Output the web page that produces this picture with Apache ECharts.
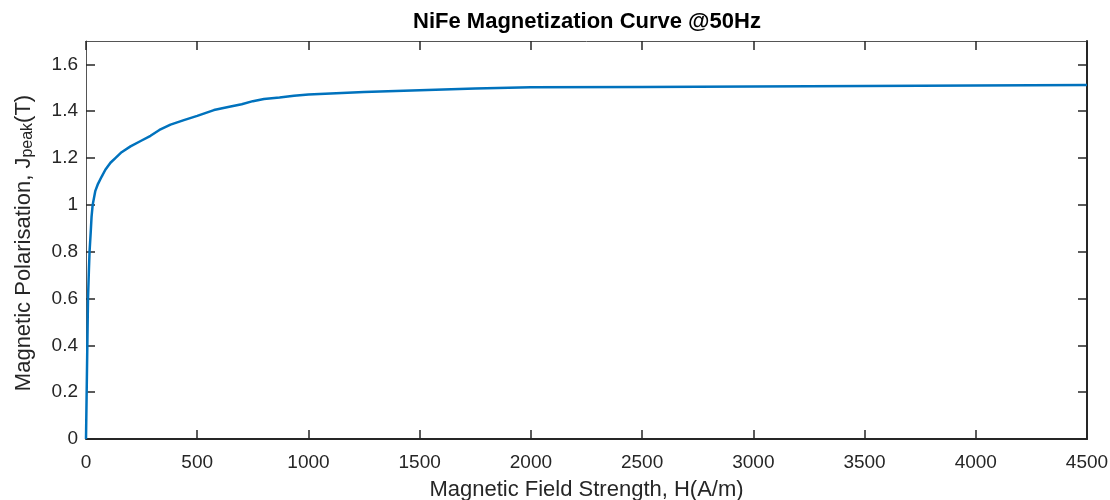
<!DOCTYPE html>
<html>
<head>
<meta charset="utf-8">
<script src="https://cdn.jsdelivr.net/npm/echarts@6/dist/echarts.min.js"></script>
<style>
html,body{margin:0;padding:0;background:#fff;}
#main{width:1110px;height:500px;}
</style>
</head>
<body>
<div id="main"></div>
<script>
// Data
var fieldH = [0, 3, 6, 9, 13, 16, 21, 25, 30, 42, 54, 70, 87, 110, 132, 160, 200, 250, 290, 330, 380, 440, 500, 575, 650, 700, 750, 800, 870, 935, 1000, 1100, 1250, 1500, 1750, 2000, 2500, 3000, 3500, 4000, 4500];
var polarJ = [0, 0.2, 0.4, 0.6, 0.72, 0.8, 0.88, 0.95, 1.0, 1.06, 1.09, 1.12, 1.15, 1.18, 1.20, 1.225, 1.25, 1.275, 1.295, 1.32, 1.343, 1.362, 1.38, 1.405, 1.42, 1.43, 1.443, 1.452, 1.459, 1.466, 1.471, 1.476, 1.482, 1.490, 1.497, 1.502, 1.504, 1.506, 1.508, 1.510, 1.512];
var xTicks = [0, 500, 1000, 1500, 2000, 2500, 3000, 3500, 4000, 4500];
var yTicks = [0, 0.2, 0.4, 0.6, 0.8, 1, 1.2, 1.4, 1.6];
var titleText = 'NiFe Magnetization Curve @50Hz';
var xLabel = 'Magnetic Field Strength, H(A/m)';

var pts = fieldH.map(function (h, i) { return [h, polarJ[i]]; });
var FONT = 'Liberation Sans, Arial, Helvetica, sans-serif';
var AX = '#262626';

var chart = echarts.init(document.getElementById('main'), null, {renderer: 'canvas'});
var tickStyle = {show: true, inside: true, length: 9, lineStyle: {color: AX, width: 1.5}};
var xBase = {
  type: 'value', min: 0, max: 4500, interval: 500,
  splitLine: {show: false}
};
var yBase = {
  type: 'value', min: 0, max: 1.7, interval: 0.2,
  splitLine: {show: false}
};
chart.setOption({
  backgroundColor: '#ffffff',
  animation: false,
  grid: {left: 86, right: 23, top: 41, bottom: 61, containLabel: false, outerBoundsMode: 'none'},
  xAxis: [
    Object.assign({}, xBase, {
      position: 'bottom',
      name: xLabel, nameLocation: 'middle', nameGap: 40,
      nameTextStyle: {fontFamily: FONT, fontSize: 22, color: AX},
      axisLine: {show: true, onZero: false, lineStyle: {color: AX, width: 2}},
      axisTick: Object.assign({}, tickStyle, {customValues: xTicks}),
      axisLabel: {fontFamily: FONT, fontSize: 19, color: AX, margin: 14, customValues: xTicks,
        formatter: function (v) { return String(v); }}
    }),
    Object.assign({}, xBase, {
      position: 'top',
      axisLine: {show: true, onZero: false, lineStyle: {color: '#555', width: 1}},
      axisTick: Object.assign({}, tickStyle, {customValues: xTicks}),
      axisLabel: {show: false}
    })
  ],
  yAxis: [
    Object.assign({}, yBase, {
      position: 'left',
      axisLine: {show: true, onZero: false, lineStyle: {color: '#555', width: 1}},
      axisTick: Object.assign({}, tickStyle, {customValues: yTicks}),
      axisLabel: {fontFamily: FONT, fontSize: 19, color: AX, margin: 8, customValues: yTicks,
        formatter: function (v) { return String(Math.round(v * 10) / 10); }}
    }),
    Object.assign({}, yBase, {
      position: 'right',
      axisLine: {show: true, onZero: false, lineStyle: {color: AX, width: 2}},
      axisTick: Object.assign({}, tickStyle, {customValues: yTicks}),
      axisLabel: {show: false}
    })
  ],
  graphic: [
    {
      type: 'text', x: 587, y: 22, silent: true,
      style: {text: titleText, fill: '#000', font: 'bold 22px ' + FONT, textAlign: 'center', textVerticalAlign: 'middle'}
    },
    {
      type: 'text', x: 24, y: 243, rotation: Math.PI / 2, silent: true,
      style: {
        text: '{a|Magnetic Polarisation, J}{s|peak}{a|(T)}',
        textAlign: 'center', textVerticalAlign: 'middle',
        rich: {
          a: {fontFamily: FONT, fontSize: 22, fill: AX, lineHeight: 23, verticalAlign: 'top'},
          s: {fontFamily: FONT, fontSize: 16, fill: AX, lineHeight: 16, verticalAlign: 'bottom', padding: [15, 0, 0, 0]}
        }
      }
    }
  ],
  series: [{
    type: 'line', xAxisIndex: 0, yAxisIndex: 0,
    data: pts, showSymbol: false, smooth: false,
    lineStyle: {color: '#0072BD', width: 2.5},
    itemStyle: {color: '#0072BD'}
  }]
});
</script>
</body>
</html>
